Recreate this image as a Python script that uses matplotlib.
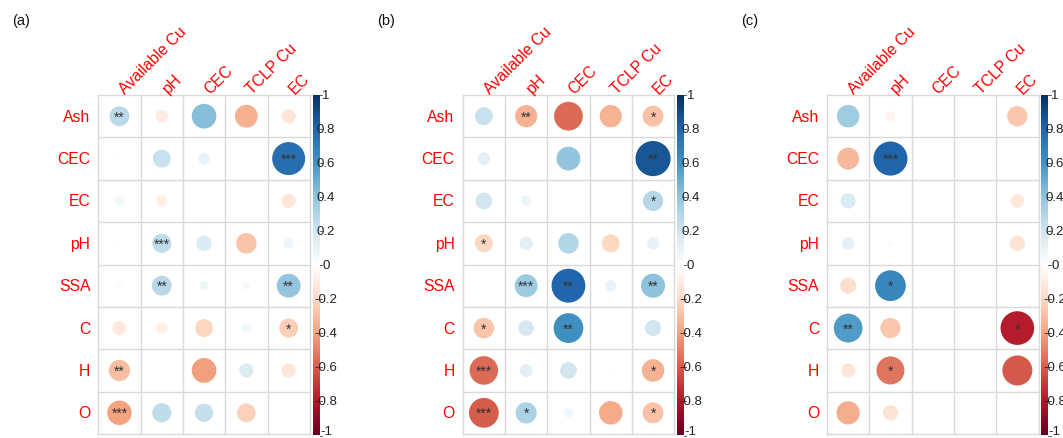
import numpy as np
import matplotlib
matplotlib.use("Agg")
import matplotlib.pyplot as plt
from matplotlib.colors import LinearSegmentedColormap
from matplotlib.patches import Circle

rows = ["Ash", "CEC", "EC", "pH", "SSA", "C", "H", "O"]
cols = ["Available Cu", "pH", "CEC", "TCLP Cu", "EC"]
panel_labels = ["(a)", "(b)", "(c)"]

corr_a = [
    [0.27, -0.11, 0.42, -0.36, -0.14],
    [-0.02, 0.22, 0.09, 0.00, 0.75],
    [0.06, -0.09, 0.00, 0.00, -0.14],
    [-0.02, 0.25, 0.16, -0.29, 0.07],
    [-0.04, 0.27, 0.06, 0.04, 0.39],
    [-0.13, -0.09, -0.22, 0.06, -0.25],
    [-0.31, 0.00, -0.42, 0.14, -0.14],
    [-0.41, 0.25, 0.23, -0.24, -0.01],
]
sig_a = [
    ["**", "", "", "", ""],
    ["", "", "", "", "***"],
    ["", "", "", "", ""],
    ["", "***", "", "", ""],
    ["", "**", "", "", "**"],
    ["", "", "", "", "*"],
    ["**", "", "", "", ""],
    ["***", "", "", "", ""],
]
corr_b = [
    [0.22, -0.34, -0.57, -0.34, -0.30],
    [0.11, 0.01, 0.39, 0.00, 0.85],
    [0.19, 0.07, 0.00, 0.00, 0.28],
    [-0.22, 0.12, 0.29, -0.22, 0.10],
    [0.00, 0.36, 0.79, 0.09, 0.40],
    [-0.29, 0.17, 0.61, -0.01, 0.18],
    [-0.56, 0.12, 0.19, 0.01, -0.35],
    [-0.61, 0.31, 0.06, -0.38, -0.30],
]
sig_b = [
    ["", "**", "", "", "*"],
    ["", "", "", "", "**"],
    ["", "", "", "", "*"],
    ["*", "", "", "", ""],
    ["", "***", "**", "", "**"],
    ["*", "", "**", "", ""],
    ["***", "", "", "", "*"],
    ["***", "*", "", "", "*"],
]
corr_c = [
    [0.35, -0.07, 0.00, 0.00, -0.28],
    [-0.33, 0.80, 0.00, 0.00, 0.00],
    [0.16, 0.01, 0.00, 0.00, -0.13],
    [0.11, 0.02, 0.00, 0.00, -0.16],
    [-0.18, 0.65, 0.00, 0.00, 0.00],
    [0.57, -0.28, 0.00, 0.00, -0.78],
    [-0.14, -0.54, 0.00, 0.00, -0.62],
    [-0.37, -0.16, 0.00, 0.00, 0.00],
]
sig_c = [
    ["", "", "", "", ""],
    ["", "***", "", "", ""],
    ["", "", "", "", ""],
    ["", "", "", "", ""],
    ["", "*", "", "", ""],
    ["**", "", "", "", "*"],
    ["", "*", "", "", ""],
    ["", "", "", "", ""],
]
cbar_ticks = [1, 0.8, 0.6, 0.4, 0.2, 0, -0.2, -0.4, -0.6, -0.8, -1]
cbar_labels = ["1", "0.8", "0.6", "0.4", "0.2", "0", "-0.2", "-0.4", "-0.6", "-0.8", "-1"]

plt.rcParams['font.family'] = ['Liberation Sans', 'DejaVu Sans']

col2 = ["#67001F", "#B2182B", "#D6604D", "#F4A582", "#FDDBC7", "#FFFFFF",
        "#D1E5F0", "#92C5DE", "#4393C3", "#2166AC", "#053061"]
cmap = LinearSegmentedColormap.from_list("corrRdBu", col2, N=200)

W, H = 1063, 439
fig = plt.figure(figsize=(W / 100, H / 100), dpi=100)

grid_lefts = [98.3, 462.7, 827.0]
grid_top, grid_bot = 96.0, 435.0
grid_w = 211.5
ncol, nrow = len(cols), len(rows)
cell = (grid_bot - grid_top) / nrow

datasets = [(corr_a, sig_a), (corr_b, sig_b), (corr_c, sig_c)]

def fx(px):
    return px / W

def fy(py):
    return 1 - py / H

for p, (corr, sig) in enumerate(datasets):
    gl = grid_lefts[p]
    ax = fig.add_axes([fx(gl), fy(grid_bot), grid_w / W, (grid_bot - grid_top) / H])
    ax.set_xlim(0, ncol)
    ax.set_ylim(nrow, 0)
    ax.set_aspect('auto')
    ax.axis('off')
    for i in range(ncol + 1):
        ax.plot([i, i], [0, nrow], color='#D9D9D9', lw=1.0, zorder=1, clip_on=False)
    for j in range(nrow + 1):
        ax.plot([0, ncol], [j, j], color='#D9D9D9', lw=1.0, zorder=1, clip_on=False)
    arr = np.array(corr)
    for r in range(nrow):
        for c in range(ncol):
            v = arr[r, c]
            rad = 0.45 * np.sqrt(abs(v))
            if rad > 0:
                ax.add_patch(Circle((c + 0.5, r + 0.5), rad, facecolor=cmap((v + 1) / 2),
                                    edgecolor='none', zorder=2))
            s = sig[r][c]
            if s:
                ax.text(c + 0.5, r + 0.5 + 0.10, s, ha='center', va='baseline',
                        fontsize=10, color='#333333', zorder=3)
    for r, name in enumerate(rows):
        fig.text(fx(gl - 8), fy(grid_top + (r + 0.5) * cell), name, ha='right', va='center',
                 fontsize=11.3, color='#FF0000')
    for c, name in enumerate(cols):
        cx = gl + (c + 0.5) * (grid_w / ncol)
        fig.text(fx(cx + 8), fy(grid_top + 1), name, ha='left', va='bottom', rotation=45,
                 rotation_mode='anchor', fontsize=11.3, color='#FF0000')
    fig.text(fx(gl - 86), fy(21), panel_labels[p], ha='left', va='center', fontsize=10.5,
             color='#111111')
    cb_left = gl + grid_w + 2.7
    cb_w = 7.0
    cax = fig.add_axes([fx(cb_left), fy(grid_bot + 1.5), cb_w / W, (grid_bot + 1.5 - grid_top) / H])
    grad = np.linspace(-1, 1, 200).reshape(-1, 1)
    cax.imshow(grad, aspect='auto', cmap=cmap, origin='lower', extent=[0, 1, -1, 1],
               vmin=-1, vmax=1)
    cax.set_xlim(0, 1)
    cax.set_ylim(-1, 1)
    cax.axis('off')
    for t, lab in zip(cbar_ticks, cbar_labels):
        cax.plot([1.0, 1.35], [t, t], color='#444444', lw=0.6, clip_on=False)
        ty = grid_bot + 1.5 - (t + 1) / 2 * (grid_bot + 1.5 - grid_top)
        ty = min(ty, 432.0)
        fig.text(fx(cb_left + cb_w + 6.5), fy(ty), lab, ha='center', va='center',
                 fontsize=9.5, color='#222222')

fig.savefig("out.png", dpi=100)
